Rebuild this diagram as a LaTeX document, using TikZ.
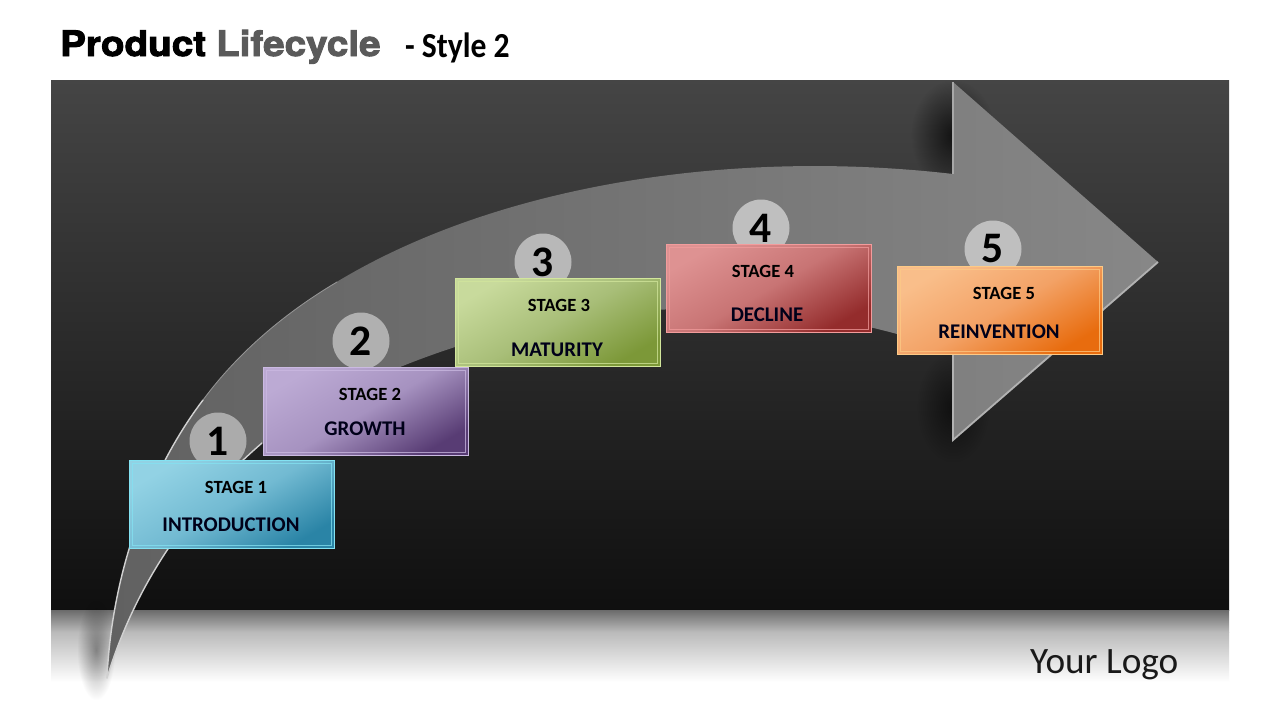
\documentclass[tikz,border=0pt]{standalone}
\usepackage{fontspec}
\setmainfont{Carlito}
\newfontfamily\headfont[FakeBold=2.6,FakeStretch=1.1]{TeX Gyre Heros Bold}
\newfontfamily\stylefont[FakeStretch=0.9]{Carlito}
\usetikzlibrary{fadings}
\tikzfading[name=soft blob,inner color=transparent!0,outer color=transparent!100]
\definecolor{lifegray}{HTML}{5A5A5A}
\definecolor{blueA}{HTML}{92D2E4}\definecolor{blueB}{HTML}{72BAD2}\definecolor{blueC}{HTML}{2A84A6}\definecolor{blueE}{HTML}{84E2F2}
\definecolor{violetA}{HTML}{BCAAD4}\definecolor{violetB}{HTML}{A692C0}\definecolor{violetC}{HTML}{583C74}\definecolor{violetE}{HTML}{CBBAE2}
\definecolor{greenA}{HTML}{C8DA9C}\definecolor{greenB}{HTML}{A8BE78}\definecolor{greenC}{HTML}{7C9838}\definecolor{greenE}{HTML}{D2E69C}
\definecolor{redA}{HTML}{DE9292}\definecolor{redB}{HTML}{C87474}\definecolor{redC}{HTML}{942C2C}\definecolor{redE}{HTML}{F29C9C}
\definecolor{orangeA}{HTML}{F9BE8A}\definecolor{orangeB}{HTML}{F3A266}\definecolor{orangeC}{HTML}{E86C0E}\definecolor{orangeE}{HTML}{FDCA86}

\begin{document}
\begin{tikzpicture}[x=0.05cm,y=-0.05cm,
  stage box/.style={rectangle,shade,shading angle=30,inner sep=0pt,minimum width=10.25cm,minimum height=4.4cm,line width=1.2pt},
  inner rim/.style={line width=1.1pt,opacity=0.75},
  number node/.style={circle,fill=black!25,minimum size=2.85cm,inner sep=0pt,font=\bfseries\fontsize{62}{62}\selectfont},
  stage label/.style={inner sep=0pt,text=black,font=\bfseries\fontsize{26.5}{26.5}\selectfont},
  stage name/.style={inner sep=0pt,text=black!90!blue,font=\bfseries\fontsize{29.7}{29.7}\selectfont},
  title part/.style={anchor=base west,inner sep=0pt},
  rim/.style={draw=black!18,line width=2pt,line cap=round}]

  \useasboundingbox (0,0) rectangle (1280,720);
  \fill[white] (0,0) rectangle (1280,720);

  % panel and its reflection
  \shade[top color=black!73,bottom color=black!94] (51,80) rectangle (1229,610);
  \shade[top color=black!58,bottom color=black!27] (51,610) rectangle (1229,632);
  \shade[top color=black!27,bottom color=white] (51,632) rectangle (1229,682);

  % shadows of the arrow
  \fill[black,opacity=0.7,path fading=soft blob] (911,80) rectangle (995,190);
  \fill[black,opacity=0.55,path fading=soft blob] (917,352) rectangle (989,462);
  \fill[black,opacity=0.38,path fading=soft blob] (77,600) rectangle (115,700);

  % the arrow
  \coordinate (tip) at (107,678);
  \coordinate (outer) at (203,400);
  \coordinate (outer end) at (337,282);
  \coordinate (inner) at (262,443);
  \coordinate (inner bend) at (455,347);
  \coordinate (notch up) at (953,174);
  \coordinate (notch down) at (953,352);
  \coordinate (head up) at (953,82);
  \coordinate (head tip) at (1158,262);
  \coordinate (head down) at (953,440);

  \shade[left color=black!62,right color=black!47,shading angle=90]
    (tip) .. controls (112,570) and (150,470) .. (outer)
    .. controls (340,215) and (660,140) .. (notch up)
    -- (head up) -- (head tip) -- (head down) -- (notch down)
    .. controls (800,295) and (620,295) .. (inner bend)
    .. controls (385,370) and (320,400) .. (inner)
    .. controls (190,505) and (135,585) .. (tip) -- cycle;

  \draw[rim] (tip) .. controls (112,570) and (150,470) .. (outer);
  \draw[rim] (tip) .. controls (135,585) and (190,505) .. (inner);
  \draw[rim,draw=black!42,line width=1.2pt] (outer) .. controls (237,354) and (283,314) .. (outer end);
  \draw[draw=black!34,line width=3pt] (head up) -- (notch up);
  \draw[draw=black!30,line width=2.6pt] (notch down) -- (head down) -- (head tip);

  % numbers
  \node[number node,fill=black!33] (n1) at (218,441) {1};
  \node[number node,fill=black!31] (n2) at (361,341) {2};
  \node[number node,fill=black!28] (n3) at (543,262) {3};
  \node[number node] (n4) at (761,228) {4};
  \node[number node] (n5) at (993,249) {5};

  % stages
  \node[left color=blueA,right color=blueC,middle color=blueB,draw=blueE,stage box] (b1) at (232,504.5) {};
  \node[left color=violetA,right color=violetC,middle color=violetB,draw=violetE,stage box] (b2) at (365.5,411.5) {};
  \node[left color=greenA,right color=greenC,middle color=greenB,draw=greenE,stage box] (b3) at (557.5,322) {};
  \node[left color=redA,right color=redC,middle color=redB,draw=redE,stage box] (b4) at (768.5,288.5) {};
  \node[left color=orangeA,right color=orangeC,middle color=orangeB,draw=orangeE,stage box] (b5) at (1000,310.5) {};

  \draw[inner rim,draw=blueE] ([xshift=0.17cm,yshift=-0.17cm]b1.north west) rectangle ([xshift=-0.17cm,yshift=0.17cm]b1.south east);
  \draw[inner rim,draw=violetE] ([xshift=0.17cm,yshift=-0.17cm]b2.north west) rectangle ([xshift=-0.17cm,yshift=0.17cm]b2.south east);
  \draw[inner rim,draw=greenE] ([xshift=0.17cm,yshift=-0.17cm]b3.north west) rectangle ([xshift=-0.17cm,yshift=0.17cm]b3.south east);
  \draw[inner rim,draw=redE] ([xshift=0.17cm,yshift=-0.17cm]b4.north west) rectangle ([xshift=-0.17cm,yshift=0.17cm]b4.south east);
  \draw[inner rim,draw=orangeE] ([xshift=0.17cm,yshift=-0.17cm]b5.north west) rectangle ([xshift=-0.17cm,yshift=0.17cm]b5.south east);

  \node[stage label] (s1) at (236,487) {STAGE 1};
  \node[stage name] (t1) at (231,525) {INTRODUCTION};
  \node[stage label] (s2) at (370,394) {STAGE 2};
  \node[stage name] (t2) at (365,429) {GROWTH};
  \node[stage label] (s3) at (559,305) {STAGE 3};
  \node[stage name] (t3) at (557,350) {MATURITY};
  \node[stage label] (s4) at (763,271) {STAGE 4};
  \node[stage name] (t4) at (767,315) {DECLINE};
  \node[stage label] (s5) at (1004,293) {STAGE 5};
  \node[stage name] (t5) at (999,332) {REINVENTION};

  % title and logo
  \node[title part,font=\headfont\fontsize{50}{50}\selectfont] (product) at (60,56) {Product};
  \node[title part,text=lifegray,font=\headfont\fontsize{50}{50}\selectfont] (lifecycle) at (216,56) {Lifecycle};
  \node[title part,font=\stylefont\bfseries\fontsize{50}{50}\selectfont] (style) at (405,57) {- Style 2};
  \node[title part,text=black!90,font=\fontsize{53}{53}\selectfont] (logo) at (1030,673) {Your Logo};
\end{tikzpicture}
\end{document}
